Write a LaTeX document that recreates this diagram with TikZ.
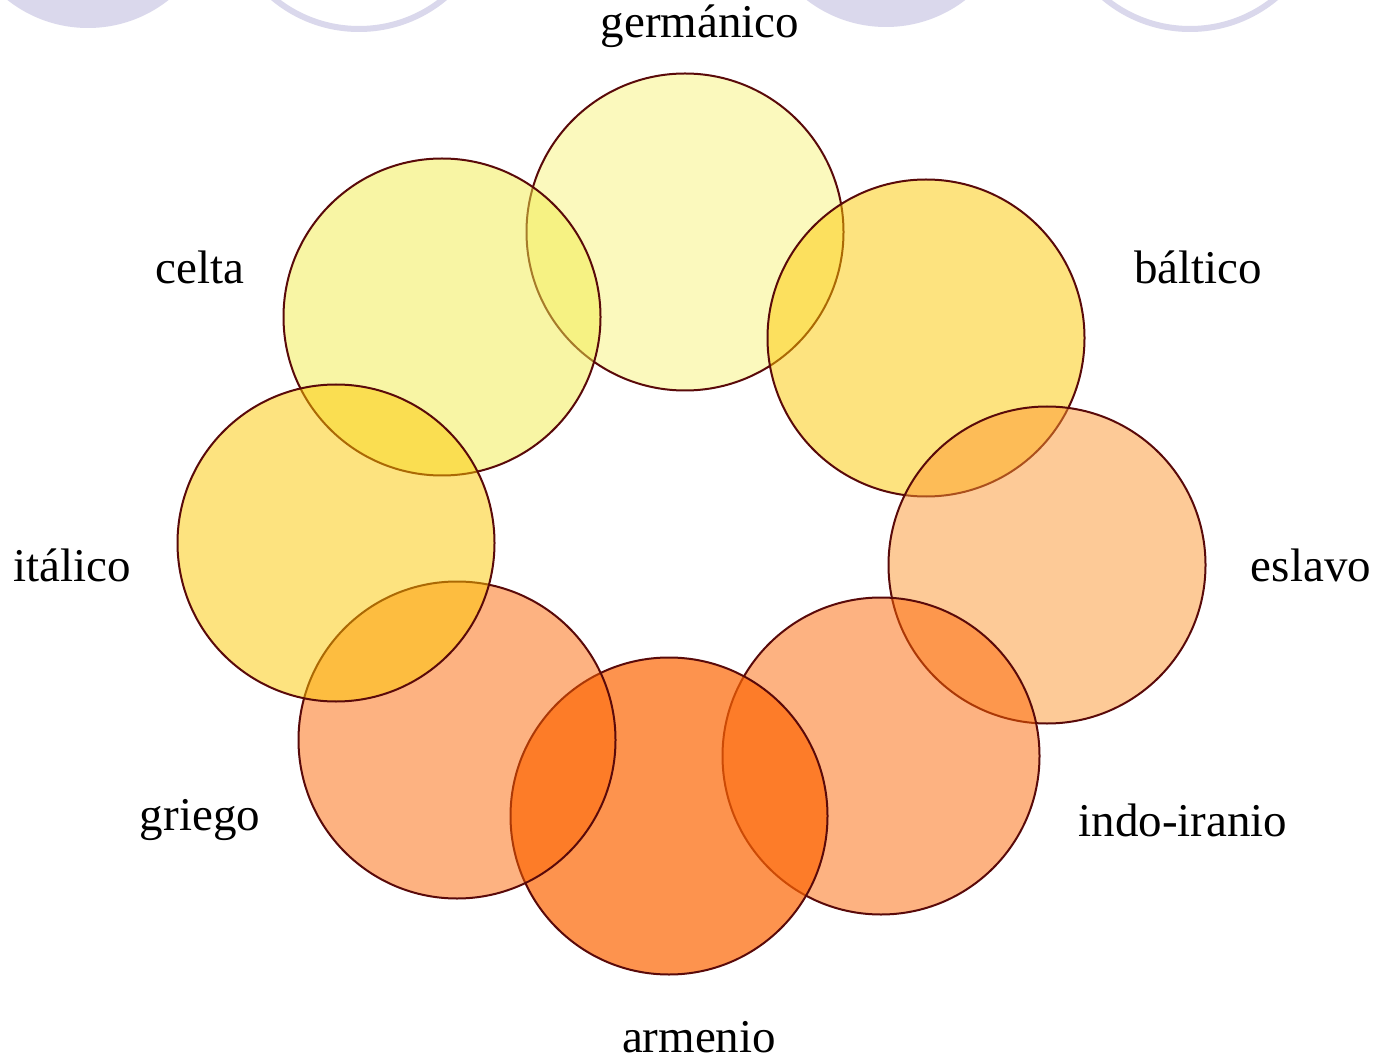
\documentclass[tikz,border=0pt]{standalone}
\usepackage{fontspec}
\setmainfont{Liberation Serif}
\definecolor{strokec}{HTML}{5A0A0A}
\definecolor{lav}{HTML}{DAD8EC}
\definecolor{cgerm}{HTML}{F9F57D}
\definecolor{ccelta}{HTML}{F3ED4B}
\definecolor{cbalt}{HTML}{FDC800}
\definecolor{cesl}{HTML}{FD9731}
\definecolor{corange}{HTML}{FD6604}
\begin{document}
\begin{tikzpicture}[x=0.5pt,y=-0.5pt,
  lang/.style={circle, draw=strokec, line width=1pt, minimum size=158.5pt, inner sep=0pt, fill opacity=0.5},
  lbl/.style={font=\fontsize{23.5}{28}\selectfont, inner sep=0pt, text=black},
  lavfill/.style={fill=lav},
  lavring/.style={draw=lav, line width=3pt}]
\useasboundingbox (0,0) rectangle (1380,1058);
\clip (0,0) rectangle (1380,1058);
\fill[white] (0,0) rectangle (1380,1058);
% partial lavender shapes at the top edge
\fill[lavfill] (88,-102) circle[radius=65pt];
\draw[lavring] (359,-105) circle[radius=67pt];
\fill[lavfill] (886,-103) circle[radius=65pt];
\draw[lavring] (1190,-105) circle[radius=67pt];
% circles
\node[lang, fill=cgerm] (germ) at (685,232) {};
\node[lang, fill=cbalt] (balt) at (926,338) {};
\node[lang, fill=cesl] (esl) at (1047,565) {};
\node[lang, fill=corange] (indo) at (881,756) {};
\node[lang, fill=corange, fill opacity=0.7] (arm) at (669,816) {};
\node[lang, fill=corange] (grie) at (457,740) {};
\node[lang, fill=ccelta] (celt) at (442,317) {};
\node[lang, fill=cbalt] (ital) at (336,543) {};
% labels
\node[lbl] (lgerm) at (700,26) {germánico};
\node[lbl] (lbalt) at (1198,267) {báltico};
\node[lbl] (lesl) at (1311,565) {eslavo};
\node[lbl] (lindo) at (1183,820) {indo-iranio};
\node[lbl, anchor=base] (larm) at (699,1052) {armenio};
\node[lbl] (lgrie) at (200,820) {griego};
\node[lbl] (lital) at (72,565) {itálico};
\node[lbl] (lcelt) at (200,267) {celta};
\end{tikzpicture}
\end{document}
